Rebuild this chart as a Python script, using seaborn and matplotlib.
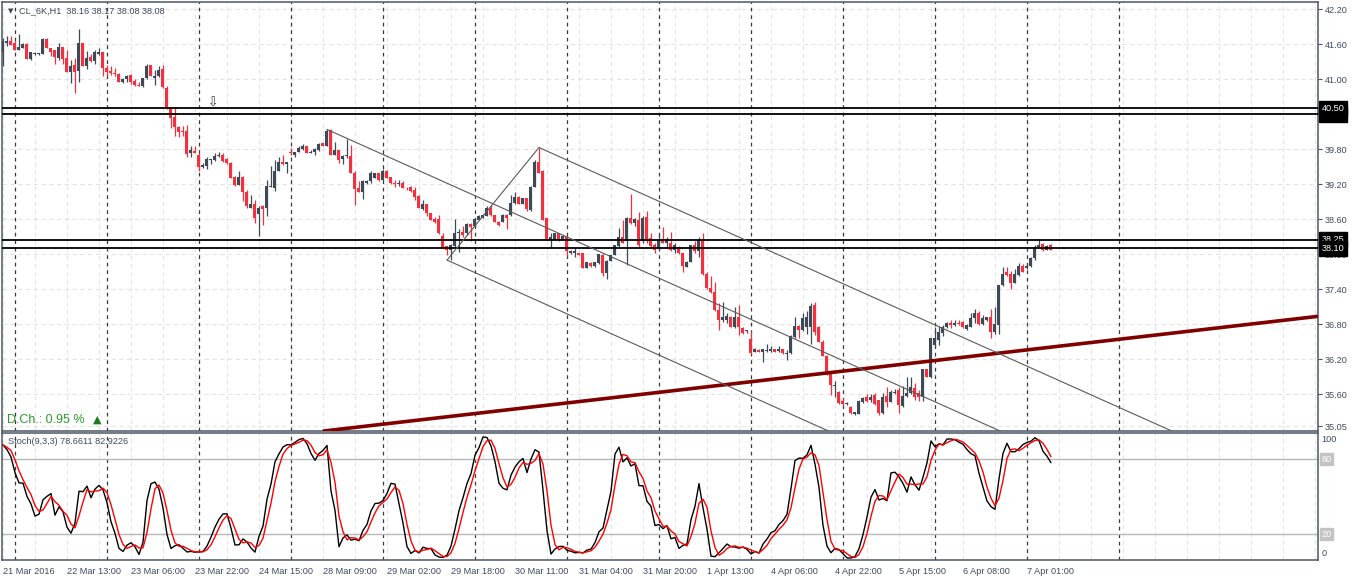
import numpy as np
import pandas as pd
import matplotlib
matplotlib.use("Agg")
import matplotlib.pyplot as plt
import matplotlib.transforms as mtrans
import seaborn as sns

# ---------------- data: CL_6K H1 candles ----------------
opens = [
    41.47, 41.63, 41.66, 41.63, 41.51, 41.54, 41.61, 41.35, 41.44, 41.43,
    41.44, 41.69, 41.54, 41.50, 41.37, 41.55, 41.36, 41.12, 41.24, 41.15,
    41.63, 41.22, 41.38, 41.32, 41.43, 41.46, 41.20, 41.14, 41.11, 41.09,
    40.96, 41.00, 41.07, 40.97, 40.91, 40.89, 41.02, 41.25, 41.03, 41.06,
    41.17, 40.85, 40.51, 40.36, 40.18, 40.11, 40.11, 39.74, 39.77, 39.70,
    39.50, 39.51, 39.62, 39.61, 39.69,
    39.70, 39.63, 39.57, 39.32, 39.19, 39.33, 39.07, 38.80, 38.86, 38.69,
    38.82, 38.80, 39.15, 39.14, 39.43, 39.59, 39.54, 39.76, 39.70, 39.76,
    39.80, 39.86, 39.74, 39.75, 39.78, 39.90, 39.86, 40.13, 39.71, 39.78,
    39.63, 39.69, 39.69, 39.40, 39.14, 39.07, 39.23, 39.25, 39.31, 39.39,
    39.27, 39.43, 39.32, 39.23, 39.21, 39.23, 39.14, 39.16, 39.10, 39.00,
    38.78, 38.86,
    38.70, 38.61, 38.60, 38.32, 38.14, 38.07, 38.15, 38.37, 38.39, 38.36,
    38.52, 38.48, 38.59, 38.63, 38.66, 38.79, 38.67, 38.56, 38.56, 38.67,
    38.67, 38.88, 38.99, 38.87, 38.96, 38.76, 39.16, 39.59, 39.42, 38.62,
    38.25, 38.25, 38.36, 38.25, 38.30, 38.03, 38.03, 38.02, 38.02, 37.77,
    37.85, 37.80, 37.85, 37.99, 37.68, 37.89, 37.99, 38.14, 38.29, 38.22,
    38.63, 38.54,
    38.59, 38.22, 38.64, 38.28, 38.16, 38.10, 38.26, 38.19, 38.19, 38.07,
    38.13, 38.02, 37.79, 37.87, 38.16, 38.05, 38.24, 37.67, 37.42, 37.36,
    37.05, 36.87, 36.87, 36.93, 36.75, 36.93, 36.74, 36.68, 36.55, 36.33,
    36.36, 36.32, 36.35, 36.35, 36.38, 36.34, 36.37, 36.29, 36.30, 36.59,
    36.77, 36.70, 36.76, 36.75, 37.13, 36.76, 36.50, 36.26, 35.96, 35.74,
    35.64, 35.49, 35.44, 35.39, 35.26, 35.27, 35.46, 35.56, 35.50, 35.59,
    35.50, 35.28, 35.57, 35.47, 35.62, 35.68, 35.40, 35.57, 35.62, 35.70,
    35.63, 35.56, 36.03, 35.89, 36.45, 36.53, 36.65, 36.76, 36.82, 36.78,
    36.83, 36.84, 36.72, 36.76, 36.90, 36.99, 36.80, 36.87, 36.92, 36.67,
    36.79, 37.47, 37.70, 37.67, 37.51, 37.64, 37.80, 37.76, 37.80, 37.94,
    38.13, 38.17, 38.08, 38.16,
]
highs = [
    41.70, 41.74, 41.74, 41.65, 41.78, 41.62, 41.62, 41.47, 41.47, 41.45,
    41.70, 41.70, 41.54, 41.50, 41.62, 41.56, 41.50, 41.33, 41.36, 41.87,
    41.63, 41.49, 41.44, 41.51, 41.53, 41.47, 41.25, 41.23, 41.19, 41.10,
    41.03, 41.07, 41.09, 41.00, 40.96, 41.03, 41.27, 41.25, 41.16, 41.22,
    41.25, 40.89, 40.52, 40.52, 40.20, 40.20, 40.21, 39.85, 39.85, 39.73,
    39.57, 39.66, 39.64, 39.74, 39.76,
    39.74, 39.65, 39.59, 39.34, 39.43, 39.34, 39.10, 39.02, 38.93, 38.82,
    38.85, 39.27, 39.51, 39.62, 39.66, 39.70, 39.59, 39.82, 39.76, 39.85,
    39.89, 39.86, 39.78, 39.82, 39.91, 39.91, 40.15, 40.15, 39.93, 39.78,
    39.71, 39.97, 39.87, 39.42, 39.26, 39.27, 39.27, 39.42, 39.40, 39.40,
    39.46, 39.45, 39.33, 39.27, 39.27, 39.26, 39.16, 39.17, 39.15, 39.02,
    38.93, 38.86,
    38.71, 38.64, 38.67, 38.36, 38.15, 38.18, 38.60, 38.43, 38.49, 38.53,
    38.53, 38.62, 38.67, 38.69, 38.82, 38.84, 38.68, 38.57, 38.69, 38.69,
    39.02, 39.06, 39.00, 38.97, 38.97, 39.17, 39.61, 39.83, 39.44, 38.63,
    38.36, 38.37, 38.37, 38.33, 38.31, 38.08, 38.10, 38.03, 38.03, 37.87,
    37.86, 37.87, 38.00, 38.00, 37.91, 37.99, 38.16, 38.45, 38.59, 38.64,
    39.03, 38.62,
    38.73, 38.66, 38.75, 38.36, 38.19, 38.33, 38.47, 38.30, 38.39, 38.19,
    38.14, 38.03, 37.89, 38.16, 38.22, 38.29, 38.37, 37.70, 37.63, 37.53,
    37.16, 37.19, 36.99, 36.94, 37.10, 37.13, 36.76, 36.71, 36.69, 36.39,
    36.37, 36.37, 36.47, 36.42, 36.38, 36.43, 36.38, 36.36, 36.61, 36.92,
    36.79, 36.99, 37.03, 37.16, 37.19, 36.77, 36.53, 36.27, 35.97, 35.82,
    35.66, 35.53, 35.47, 35.40, 35.30, 35.50, 35.56, 35.60, 35.60, 35.62,
    35.51, 35.63, 35.73, 35.67, 35.69, 35.73, 35.74, 35.90, 35.90, 35.80,
    35.67, 36.04, 36.04, 36.56, 36.76, 36.77, 36.79, 36.84, 36.88, 36.88,
    36.88, 36.85, 36.80, 36.99, 37.06, 37.02, 36.96, 36.93, 37.07, 37.10,
    37.47, 37.78, 37.78, 37.71, 37.74, 37.85, 37.83, 37.85, 37.95, 38.16,
    38.27, 38.19, 38.16, 38.17,
]
lows = [
    41.23, 41.57, 41.59, 41.50, 41.50, 41.53, 41.35, 41.33, 41.42, 41.42,
    41.44, 41.54, 41.40, 41.27, 41.33, 41.27, 41.12, 40.94, 40.76, 40.96,
    41.23, 41.17, 41.30, 41.26, 41.42, 41.06, 41.07, 41.07, 41.05, 40.96,
    40.93, 40.96, 40.92, 40.89, 40.88, 40.86, 41.00, 41.05, 40.90, 41.04,
    40.85, 40.49, 40.16, 40.03, 40.01, 40.02, 39.66, 39.67, 39.73, 39.42,
    39.48, 39.46, 39.55, 39.60, 39.66,
    39.59, 39.55, 39.30, 39.17, 39.19, 38.92, 38.80, 38.79, 38.54, 38.32,
    38.50, 38.66, 39.15, 39.09, 39.42, 39.53, 39.40, 39.70, 39.67, 39.75,
    39.79, 39.73, 39.73, 39.71, 39.77, 39.85, 39.86, 39.70, 39.70, 39.56,
    39.55, 39.65, 39.39, 38.85, 39.06, 38.95, 39.21, 39.23, 39.30, 39.26,
    39.26, 39.31, 39.21, 39.16, 39.17, 39.13, 39.11, 39.07, 38.93, 38.79,
    38.76, 38.66,
    38.58, 38.54, 38.35, 38.12, 37.99, 37.90, 38.13, 38.04, 38.30, 38.33,
    38.23, 38.47, 38.58, 38.62, 38.65, 38.66, 38.55, 38.49, 38.55, 38.44,
    38.66, 38.86, 38.86, 38.86, 38.74, 38.75, 39.15, 39.39, 38.58, 38.25,
    38.13, 38.24, 38.23, 38.24, 37.97, 38.00, 37.96, 37.98, 37.76, 37.76,
    37.79, 37.79, 37.84, 37.62, 37.57, 37.88, 37.98, 38.13, 38.19, 37.82,
    38.52, 38.48,
    38.13, 38.20, 38.20, 38.13, 38.03, 38.08, 38.19, 38.13, 38.06, 38.02,
    38.01, 37.70, 37.78, 37.86, 38.02, 37.96, 37.64, 37.40, 37.33, 37.03,
    36.71, 36.84, 36.82, 36.75, 36.74, 36.62, 36.63, 36.65, 36.29, 36.32,
    36.32, 36.16, 36.33, 36.33, 36.32, 36.33, 36.29, 36.19, 36.29, 36.56,
    36.56, 36.69, 36.64, 36.47, 36.62, 36.49, 36.25, 35.93, 35.59, 35.56,
    35.43, 35.42, 35.42, 35.27, 35.24, 35.26, 35.45, 35.47, 35.46, 35.42,
    35.25, 35.27, 35.38, 35.46, 35.61, 35.28, 35.39, 35.56, 35.61, 35.50,
    35.49, 35.49, 35.89, 35.88, 36.42, 36.45, 36.60, 36.73, 36.74, 36.77,
    36.79, 36.74, 36.71, 36.75, 36.82, 36.79, 36.79, 36.86, 36.56, 36.64,
    36.63, 37.46, 37.63, 37.40, 37.50, 37.62, 37.69, 37.74, 37.79, 37.90,
    38.12, 38.06, 38.07, 38.08,
]
closes = [
    41.66, 41.66, 41.59, 41.50, 41.56, 41.61, 41.35, 41.46, 41.45, 41.44,
    41.69, 41.54, 41.47, 41.39, 41.56, 41.35, 41.12, 41.23, 41.13, 41.63,
    41.23, 41.37, 41.32, 41.46, 41.47, 41.20, 41.12, 41.10, 41.09, 40.96,
    41.00, 41.06, 40.96, 40.90, 40.89, 41.02, 41.23, 41.05, 41.06, 41.16,
    40.86, 40.50, 40.34, 40.18, 40.10, 40.10, 39.72, 39.79, 39.74, 39.49,
    39.53, 39.63, 39.63, 39.69, 39.70,
    39.60, 39.56, 39.31, 39.19, 39.33, 39.07, 38.82, 38.87, 38.62, 38.80,
    38.77, 39.17, 39.17, 39.43, 39.59, 39.55, 39.58, 39.73, 39.76, 39.83,
    39.86, 39.73, 39.76, 39.81, 39.89, 39.85, 40.12, 39.71, 39.78, 39.62,
    39.69, 39.70, 39.40, 39.12, 39.07, 39.26, 39.26, 39.40, 39.39, 39.27,
    39.42, 39.31, 39.22, 39.20, 39.23, 39.14, 39.13, 39.09, 38.98, 38.80,
    38.87, 38.70,
    38.59, 38.56, 38.36, 38.13, 38.07, 38.16, 38.36, 38.39, 38.33, 38.52,
    38.46, 38.60, 38.66, 38.67, 38.79, 38.67, 38.56, 38.50, 38.67, 38.63,
    38.88, 38.99, 38.87, 38.96, 38.78, 39.16, 39.59, 39.39, 38.59, 38.26,
    38.30, 38.36, 38.25, 38.31, 38.05, 38.06, 38.06, 37.99, 37.77, 37.86,
    37.80, 37.86, 38.00, 37.68, 37.89, 37.99, 38.16, 38.29, 38.20, 38.63,
    38.53, 38.60,
    38.16, 38.63, 38.22, 38.15, 38.07, 38.25, 38.19, 38.23, 38.07, 38.16,
    38.02, 37.80, 37.87, 38.16, 38.05, 38.24, 37.66, 37.42, 37.36, 37.05,
    36.87, 36.93, 36.94, 36.76, 36.92, 36.75, 36.65, 36.70, 36.30, 36.37,
    36.33, 36.37, 36.36, 36.37, 36.33, 36.37, 36.30, 36.31, 36.60, 36.77,
    36.71, 36.91, 36.93, 37.11, 36.67, 36.50, 36.26, 35.95, 35.76, 35.76,
    35.45, 35.43, 35.45, 35.28, 35.30, 35.49, 35.53, 35.49, 35.56, 35.44,
    35.28, 35.56, 35.47, 35.64, 35.64, 35.42, 35.57, 35.63, 35.73, 35.56,
    35.56, 36.03, 35.90, 36.56, 36.56, 36.67, 36.76, 36.82, 36.78, 36.82,
    36.80, 36.75, 36.79, 36.90, 36.99, 36.80, 36.90, 36.92, 36.67, 36.80,
    37.47, 37.67, 37.65, 37.51, 37.67, 37.80, 37.70, 37.80, 37.94, 38.13,
    38.16, 38.07, 38.14, 38.08,
]

time_labels = ["21 Mar 2016", "22 Mar 13:00", "23 Mar 06:00", "23 Mar 22:00",
               "24 Mar 15:00", "28 Mar 09:00", "29 Mar 02:00", "29 Mar 18:00",
               "30 Mar 11:00", "31 Mar 04:00", "31 Mar 20:00", "1 Apr 13:00",
               "4 Apr 06:00", "4 Apr 22:00", "5 Apr 15:00", "6 Apr 08:00",
               "7 Apr 01:00"]
time_label_bars = list(range(0, 257, 16))
day_start_bars = [3, 26, 49, 72, 95, 118, 141, 164, 187, 210, 233, 256, 279]

price_ticks = [42.20, 41.60, 41.00, 40.40, 39.80, 39.20, 38.60, 38.00,
               37.40, 36.80, 36.20, 35.60, 35.05]
level_lines = [40.50, 40.40, 38.25, 38.10]

# pitchfork pivots (bar, price): handle, upper, lower
pf_bars = [81, 134, 111]
pf_prices = [40.14, 39.83, 37.90]
# support trendline (two anchor points)
trend_bars = [84, 328]
trend_prices = [35.00, 36.93]

# ---------------- frame ----------------
df = pd.DataFrame({"open": opens, "high": highs, "low": lows, "close": closes})
df["bar"] = np.arange(len(df))

# Stoch(9,3,3)
hh = df["high"].rolling(9, min_periods=1).max()
ll = df["low"].rolling(9, min_periods=1).min()
num = (df["close"] - ll).rolling(3, min_periods=1).sum()
den = (hh - ll).rolling(3, min_periods=1).sum()
df["k"] = 100 * num / den
df["d"] = df["k"].rolling(3, min_periods=1).mean()

sns.set_style("white")
plt.rcParams["font.family"] = ["Liberation Sans", "DejaVu Sans"]

BULL = "#3e4958"
BEAR = "#f4303e"
AXC = "#4b5665"
TXT = "#3d4a5c"
FS = 6.6

W, H = 1358, 581
fig = plt.figure(figsize=(W / 100, H / 100), dpi=100)
fig.patch.set_facecolor("white")
x0 = 2 / W
wd = (1317.7 - 2) / W
ax = fig.add_axes([x0, 1 - 431 / H, wd, (431 - 2) / H])
ax2 = fig.add_axes([x0, 1 - 560 / H, wd, (560 - 433) / H])

xlim = (-0.25, 328.68)
for a in (ax, ax2):
    a.set_xlim(*xlim)
    a.set_facecolor("white")
    for s in a.spines.values():
        s.set_color(AXC)
        s.set_linewidth(1.1)
    # light grid
    for b in range(0, 330, 8):
        a.axvline(b, color="#e4e4e4", lw=0.8, ls=(0, (4, 3)), zorder=0)
    # day separators
    for b in day_start_bars:
        a.axvline(b, color="#3a3a3a", lw=0.9, ls=(0, (3, 3)), zorder=1)

ax.set_ylim(34.970, 42.325)
for p in price_ticks:
    ax.axhline(p, color="#e4e4e4", lw=0.8, ls=(0, (4, 3)), zorder=0)

# ---------------- candles ----------------
up = df["close"] >= df["open"]
cols = np.where(up, BULL, BEAR)
ax.vlines(df["bar"], df["low"], df["high"], colors=cols, lw=0.9, zorder=3)
body_lo = np.minimum(df["open"], df["close"])
body_h = np.maximum((df["close"] - df["open"]).abs(), 0.014)
ax.bar(df["bar"], body_h, bottom=body_lo, width=0.75, color=cols,
       linewidth=0, zorder=4)

# ---------------- drawings ----------------
for p in level_lines:
    ax.axhline(p, color="black", lw=1.3, zorder=5)

ax.axline((trend_bars[0], trend_prices[0]), (trend_bars[1], trend_prices[1]),
          color="#800000", lw=2.6, zorder=5)

b0, b1, b2 = pf_bars
p0, p1, p2 = pf_prices
mb, mp = (b1 + b2) / 2, (p1 + p2) / 2
slope = (mp - p0) / (mb - b0)
far = 420
for b, p in zip(pf_bars, pf_prices):
    ax.plot([b, far], [p, p + slope * (far - b)], color="#5a5a5a", lw=0.8, zorder=5)
ax.plot([b1, b2], [p1, p2], color="#5a5a5a", lw=0.8, zorder=5)

ax.text(52.5, 40.59, "\u21e9", fontsize=9, family="DejaVu Sans", color="#333333",
        ha="center", va="center", zorder=6)

# ---------------- axes / labels main ----------------
ax.yaxis.tick_right()
ax.set_yticks(price_ticks)
ax.set_yticklabels([f"{p:.2f}" for p in price_ticks])
ax.tick_params(axis="y", length=3, color=AXC, labelsize=FS, labelcolor=TXT, pad=2)
ax.set_xticks([])

tr = mtrans.blended_transform_factory(ax.transAxes, ax.transData)
box_x = 1.0 + 4 / (1317.7 - 2)
for p in [40.40, 40.50, 38.25, 38.10]:
    ax.text(box_x, p, f"{p:.2f}", transform=tr, fontsize=FS, color="white",
            ha="left", va="center", zorder=10, clip_on=False,
            bbox=dict(boxstyle="square,pad=0.3", fc="black", ec="black"))

ax.text(9 / (1315.7), 0.979, "\u25bc", transform=ax.transAxes, fontsize=5,
        family="DejaVu Sans", color=TXT, ha="center", va="center")
ax.text(17 / 1315.7, 0.979, "CL_6K,H1  38.16 38.17 38.08 38.08",
        transform=ax.transAxes, fontsize=FS, color=TXT, ha="left", va="center")
ax.text(5 / 1315.7, 0.0245, "D.Ch.: 0.95 %", transform=ax.transAxes,
        fontsize=9, color="#2a9a2a", ha="left", va="center")
ax.text(91 / 1315.7, 0.027, "\u25b2", transform=ax.transAxes, fontsize=8,
        family="DejaVu Sans", color="#1c7a1c", ha="left", va="center")

# ---------------- stochastic ----------------
ax2.set_ylim(-0.56, 101.04)
ax2.axhline(80, color="#b8b8b8", lw=1.0, zorder=1)
ax2.axhline(20, color="#b8b8b8", lw=1.0, zorder=1)
sns.lineplot(data=df, x="bar", y="k", color="black", lw=1.0, ax=ax2, zorder=3)
sns.lineplot(data=df, x="bar", y="d", color="red", lw=1.0, ax=ax2, zorder=4)
ax2.set_xlim(*xlim)
ax2.set_ylabel("")
ax2.set_xlabel("")
ax2.set_yticks([])
ax2.set_xticks(time_label_bars)
ax2.set_xticklabels(time_labels, ha="left")
ax2.tick_params(axis="x", length=3, color=AXC, labelsize=FS, labelcolor=TXT, pad=2)

ax2.text(6 / 1315.7, 0.93, "Stoch(9,3,3) 78.6611 82.9226", transform=ax2.transAxes,
         fontsize=FS, color=TXT, ha="left", va="center")
tr2 = mtrans.blended_transform_factory(ax2.transAxes, ax2.transData)
ax2.text(box_x, 96, "100", transform=tr2, fontsize=FS, color=TXT, ha="left",
         va="center", clip_on=False)
ax2.text(box_x, 5, "0", transform=tr2, fontsize=FS, color=TXT, ha="left",
         va="center", clip_on=False)
for lv in (80, 20):
    ax2.text(box_x, lv, str(lv), transform=tr2, fontsize=FS, color="white",
             ha="left", va="center", clip_on=False,
             bbox=dict(boxstyle="square,pad=0.15", fc="#c4c4c4", ec="#c4c4c4"))

fig.savefig("out.png", dpi=100, facecolor="white")
